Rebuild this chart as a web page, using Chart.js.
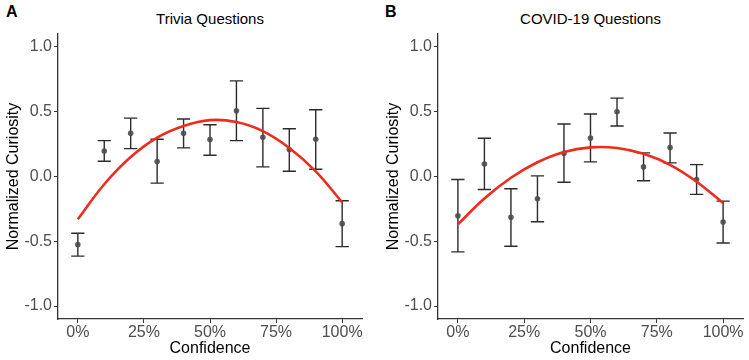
<!DOCTYPE html>
<html>
<head>
<meta charset="utf-8">
<script src="https://cdn.jsdelivr.net/npm/chart.js@4.4.0/dist/chart.umd.min.js"></script>
<style>
  body { margin: 0; background: #fff; width: 749px; height: 360px; overflow: hidden; position: relative; font-family: 'Liberation Sans', Arial, sans-serif; }
  .panel { position: absolute; top: 0; height: 360px; }
  .letter { position: absolute; top: 4px; font-weight: bold; font-size: 16px; line-height: 16px; color: #000; }
  .title { position: absolute; top: 11px; font-size: 15px; line-height: 15px; text-align: center; color: #000; }
</style>
</head>
<body>
<div class="letter" style="left:6px;">A</div>
<div class="title" style="left:58px;width:304px;">Trivia Questions</div>
<div class="panel" style="left:0;width:372px;"><canvas id="chartA" width="372" height="360"></canvas></div>

<div class="letter" style="left:385px;">B</div>
<div class="title" style="left:438px;width:305px;">COVID-19 Questions</div>
<div class="panel" style="left:380px;width:369px;"><canvas id="chartB" width="369" height="360"></canvas></div>

<script>
// confidence bins (x) and axis ticks
const confidence = [0, 10, 20, 30, 40, 50, 60, 70, 80, 90, 100];
const xTicks = [0, 25, 50, 75, 100];
const yTicks = [-1, -0.5, 0, 0.5, 1];

// Trivia questions: mean, error bar ends, fitted curve
const triviaMean  = [-0.526, 0.197, 0.333, 0.115, 0.333, 0.285, 0.508, 0.303, 0.208, 0.287, -0.364];
const triviaLower = [-0.615, 0.118, 0.215, -0.051, 0.221, 0.164, 0.277, 0.074, 0.041, 0.056, -0.541];
const triviaUpper = [-0.438, 0.277, 0.451, 0.287, 0.444, 0.400, 0.738, 0.526, 0.369, 0.515, -0.187];
const triviaFit   = [-0.33, -0.06, 0.15, 0.30, 0.39, 0.435, 0.42, 0.35, 0.22, 0.04, -0.20];

// COVID-19 questions
const covidMean  = [-0.303, 0.097, -0.315, -0.172, 0.180, 0.297, 0.500, 0.074, 0.223, -0.023, -0.351];
const covidLower = [-0.582, -0.100, -0.538, -0.349, -0.044, 0.113, 0.390, -0.033, 0.105, -0.138, -0.513];
const covidUpper = [-0.023, 0.295, -0.095, 0.005, 0.405, 0.482, 0.605, 0.182, 0.336, 0.092, -0.190];
const covidFit   = [-0.37, -0.17, -0.01, 0.11, 0.19, 0.225, 0.22, 0.175, 0.09, -0.04, -0.205];

const FONT = "'Liberation Sans', Arial, sans-serif";
const AXIS_COLOR = '#333333';

// draws the vertical error bars with caps, under the points
function errorBarPlugin(lower, upper) {
  return {
    id: 'errorBars',
    beforeDatasetsDraw(chart) {
      const ctx = chart.ctx;
      const xs = chart.scales.x;
      const ys = chart.scales.y;
      ctx.save();
      ctx.strokeStyle = '#2b2b2b';
      ctx.lineWidth = 1.4;
      confidence.forEach((c, i) => {
        const px = xs.getPixelForValue(c);
        const x0 = xs.getPixelForValue(c - 2.5);
        const x1 = xs.getPixelForValue(c + 2.5);
        const yt = ys.getPixelForValue(upper[i]);
        const yb = ys.getPixelForValue(lower[i]);
        ctx.beginPath();
        ctx.moveTo(px, yt); ctx.lineTo(px, yb);
        ctx.moveTo(x0, yt); ctx.lineTo(x1, yt);
        ctx.moveTo(x0, yb); ctx.lineTo(x1, yb);
        ctx.stroke();
      });
      ctx.restore();
    }
  };
}

function makeChart(id, mean, lower, upper, fit, rightPad) {
  const ctx = document.getElementById(id).getContext('2d');
  return new Chart(ctx, {
    type: 'scatter',
    data: {
      datasets: [{
        label: 'fit',
        data: confidence.map((c, i) => ({ x: c, y: fit[i] })),
        showLine: true,
        borderColor: '#ec2d1b',
        borderWidth: 2.6,
        pointRadius: 0,
        tension: 0.4
      }, {
        label: 'mean',
        data: confidence.map((c, i) => ({ x: c, y: mean[i] })),
        showLine: false,
        pointRadius: 2.8,
        pointBackgroundColor: 'rgba(75,75,75,0.9)',
        pointBorderWidth: 0
      }]
    },
    options: {
      responsive: false,
      animation: false,
      layout: { padding: { top: 34, right: rightPad, left: 0, bottom: 0 } },
      plugins: {
        legend: { display: false },
        tooltip: { enabled: false }
      },
      scales: {
        x: {
          type: 'linear',
          min: -7.5,
          max: 107.5,
          afterBuildTicks: s => { s.ticks = xTicks.map(v => ({ value: v })); },
          afterFit: s => { s.height = 41; },
          ticks: {
            callback: v => v + '%',
            color: '#4d4d4d',
            font: { family: FONT, size: 16 },
            padding: 0,
            maxRotation: 0,
            autoSkip: false
          },
          grid: { display: true, drawOnChartArea: false, drawTicks: true, tickLength: 4, color: AXIS_COLOR },
          border: { display: true, color: AXIS_COLOR, width: 1.3 },
          title: { display: true, text: 'Confidence', color: '#000', font: { family: FONT, size: 16 }, padding: { top: 0, bottom: 2 } }
        },
        y: {
          type: 'linear',
          min: -1.1,
          max: 1.1,
          afterBuildTicks: s => { s.ticks = yTicks.map(v => ({ value: v })); },
          afterFit: s => { s.width = 58; },
          ticks: {
            callback: v => v.toFixed(1),
            color: '#4d4d4d',
            font: { family: FONT, size: 16 },
            padding: 2
          },
          grid: { display: true, drawOnChartArea: false, drawTicks: true, tickLength: 4, color: AXIS_COLOR },
          border: { display: true, color: AXIS_COLOR, width: 1.3 },
          title: { display: true, text: 'Normalized Curiosity', color: '#000', font: { family: FONT, size: 16 }, padding: { top: 4, bottom: 0 } }
        }
      }
    },
    plugins: [errorBarPlugin(lower, upper)]
  });
}

makeChart('chartA', triviaMean, triviaLower, triviaUpper, triviaFit, 10);
makeChart('chartB', covidMean, covidLower, covidUpper, covidFit, 6);
</script>
</body>
</html>
